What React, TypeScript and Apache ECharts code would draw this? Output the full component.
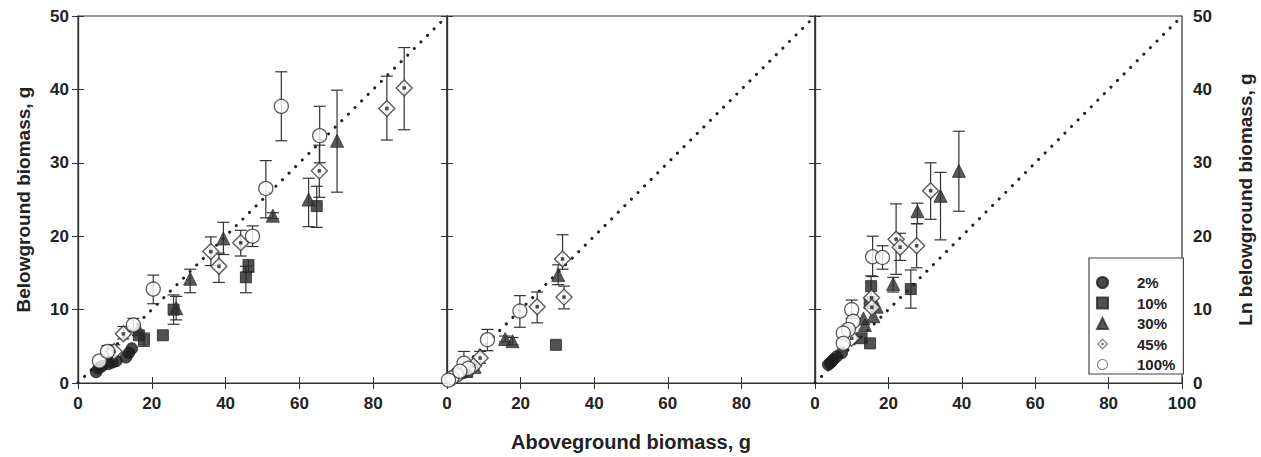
import React, { useEffect, useRef } from "react";
import * as echarts from "echarts";

// ---------- data: [aboveground, belowground, lowerErr, upperErr] ----------
const GROUPS = ["2%", "10%", "30%", "45%", "100%"];
const X_TICKS = [0, 20, 40, 60, 80, 100];
const Y_TICKS = [0, 10, 20, 30, 40, 50];
const REF_LINE = [[0, 0], [100, 50]];

// Panel 1
const p1_2 = [[4.9, 1.5, null, null], [5.6, 2.0, null, null], [6.5, 2.3, null, null], [8.2, 2.6, null, null], [9.3, 2.8, null, null], [10.4, 3.0, null, null], [13.0, 3.5, null, null], [13.8, 4.1, null, null], [14.6, 4.7, null, null]];
const p1_10 = [[17.9, 5.9, 5.0, 6.8], [23.0, 6.5, null, null], [25.9, 10.0, 8.0, 12.0], [45.5, 14.4, 12.3, 15.9], [46.2, 15.9, 15.1, 16.8], [64.7, 24.1, 21.2, 26.8], [16.5, 6.5, null, null]];
const p1_30 = [[16.4, 7.3, null, null], [26.6, 10.2, 8.6, 11.8], [30.4, 14.2, 12.3, 15.5], [39.4, 19.7, 17.5, 21.9], [52.8, 22.8, 22.4, 23.2], [62.5, 25.0, 21.3, 27.9], [70.2, 33.0, 26.0, 39.9]];
const p1_45 = [[9.8, 4.3, 3.6, 5.2], [12.3, 6.7, 6.0, 7.7], [36.0, 17.9, 16.0, 19.9], [38.2, 15.9, 13.7, 17.7], [44.1, 19.1, 17.3, 20.8], [65.4, 28.9, 25.3, 32.4], [83.7, 37.4, 33.1, 41.8], [88.4, 40.2, 34.5, 45.7]];
const p1_100 = [[5.8, 3.0, null, null], [8.0, 4.3, 3.5, 5.1], [15.0, 7.9, 7.0, 8.8], [20.4, 12.8, 10.8, 14.7], [47.3, 20.0, 18.6, 21.4], [50.9, 26.5, 22.5, 30.3], [55.1, 37.7, 33.0, 42.4], [65.5, 33.7, 30.0, 37.7]];

// Panel 2
const p2_2 = [[1.5, 0.6, null, null], [2.5, 0.9, null, null], [3.5, 1.2, null, null], [4.5, 1.4, null, null]];
const p2_10 = [[29.6, 5.2, null, null], [5.5, 1.5, null, null]];
const p2_30 = [[15.8, 6.0, 5.6, 6.4], [17.8, 5.7, 5.2, 6.2], [30.2, 14.7, 13.4, 16.1], [7.5, 2.2, null, null]];
const p2_45 = [[31.4, 16.9, 15.5, 20.2], [31.8, 11.7, 10.1, 13.2], [24.5, 10.4, 8.2, 12.4], [9.0, 3.4, 2.7, 4.3], [7.2, 2.3, null, null]];
const p2_100 = [[19.8, 9.8, 7.6, 11.9], [11.0, 5.9, 4.4, 7.3], [4.6, 2.7, 2.0, 4.3], [5.8, 2.0, null, null], [2.6, 1.1, null, null], [1.3, 0.7, null, null], [0.4, 0.4, null, null], [3.5, 1.6, null, null]];

// Panel 3
const p3_2 = [[3.6, 2.5, null, null], [4.1, 2.7, null, null], [4.5, 2.9, null, null], [5.0, 3.2, null, null], [5.9, 3.6, null, null], [7.3, 4.1, null, null]];
const p3_10 = [[15.3, 13.2, 11.8, 14.6], [26.1, 12.8, 10.2, 15.4], [14.9, 10.9, null, null], [12.7, 6.1, null, null], [15.0, 5.4, null, null]];
const p3_30 = [[39.2, 28.9, 23.4, 34.3], [34.2, 25.5, 19.5, 28.7], [27.9, 23.4, 21.7, 24.5], [21.3, 13.5, 12.4, 14.4], [16.8, 10.4, null, null], [15.9, 9.1, null, null], [13.2, 8.8, null, null], [13.6, 7.9, null, null]];
const p3_45 = [[31.5, 26.2, 22.3, 30.0], [27.7, 18.7, 15.7, 21.7], [22.1, 19.6, 14.8, 24.4], [23.2, 18.5, 16.7, 20.4], [15.4, 11.6, null, null], [10.0, 6.1, null, null], [15.5, 10.3, null, null]];
const p3_100 = [[15.7, 17.2, 14.5, 20.0], [18.4, 17.1, 15.5, 18.7], [10.0, 10.0, 8.8, 11.3], [10.4, 8.4, null, null], [9.1, 7.3, null, null], [7.7, 6.8, null, null], [7.7, 5.4, null, null]];

const PANELS = [
  [p1_2, p1_10, p1_30, p1_45, p1_100],
  [p2_2, p2_10, p2_30, p2_45, p2_100],
  [p3_2, p3_10, p3_30, p3_45, p3_100],
];

// ---------- styles ----------
const FONT = "'Liberation Sans', Arial, Helvetica, sans-serif";
const INK = "#222";
const GRID_BOXES = [
  { left: 78, width: 369 },
  { left: 447, width: 368 },
  { left: 815, width: 367 },
];
const GRID_TOP = 16;
const GRID_H = 367;

const STYLE: Record<string, any> = {
  "2%": { symbol: "circle", size: 11.5, itemStyle: { color: "#1b1b1b", borderColor: "#1b1b1b", borderWidth: 1 } },
  "10%": { symbol: "rect", size: 11, itemStyle: { color: "#262626", borderColor: "#262626", borderWidth: 1 } },
  "30%": { symbol: "triangle", size: 13, itemStyle: { color: "#303030", borderColor: "#303030", borderWidth: 1 } },
  "45%": { symbol: "diamond", size: 16, itemStyle: { color: "#ffffff", borderColor: "#333", borderWidth: 1.4 } },
  "100%": { symbol: "circle", size: 14, itemStyle: { color: "#ffffff", borderColor: "#333", borderWidth: 1.3 } },
};

const DIAMOND_DOT_ICON =
  "path://M0,-10L10,0L0,10L-10,0Z M0,-7.6L-7.6,0L0,7.6L7.6,0Z M-1.9,-1.9L1.9,-1.9L1.9,1.9L-1.9,1.9Z";
const RING_ICON = "path://M0,-10A10,10 0 1,1 0,10A10,10 0 1,1 0,-10Z M0,-8.4A8.4,8.4 0 1,0 0,8.4A8.4,8.4 0 1,0 0,-8.4Z";

function errorBarRender(params: any, api: any) {
  const x = api.value(0);
  const lo = api.value(2);
  const hi = api.value(3);
  if (lo == null || hi == null || isNaN(lo) || isNaN(hi)) return null;
  const top = api.coord([x, hi]);
  const bot = api.coord([x, lo]);
  const w = 6;
  const style = { stroke: "#333", lineWidth: 1.2 };
  return {
    type: "group",
    children: [
      { type: "line", shape: { x1: top[0], y1: top[1], x2: bot[0], y2: bot[1] }, style },
      { type: "line", shape: { x1: top[0] - w, y1: top[1], x2: top[0] + w, y2: top[1] }, style },
      { type: "line", shape: { x1: bot[0] - w, y1: bot[1], x2: bot[0] + w, y2: bot[1] }, style },
    ],
  };
}

export default function App() {
  const ref = useRef<HTMLDivElement>(null);

  useEffect(() => {
    if (!ref.current) return;
    const chart = echarts.init(ref.current, null, { renderer: "svg" });

    const grid = GRID_BOXES.map((g) => ({
      left: g.left,
      width: g.width,
      top: GRID_TOP,
      height: GRID_H,
      show: true,
      borderColor: "#333",
      borderWidth: 1.2,
      backgroundColor: "transparent",
    }));

    const tickLabel = { fontFamily: FONT, fontWeight: "bold", fontSize: 17, color: INK };
    const xAxis: any[] = [];
    const yAxis: any[] = [];
    GRID_BOXES.forEach((_, i) => {
      xAxis.push({
        type: "value",
        gridIndex: i,
        position: "bottom",
        min: X_TICKS[0],
        max: X_TICKS[X_TICKS.length - 1],
        interval: 20,
        axisLine: { show: true, lineStyle: { color: "#333", width: 1.2 } },
        axisTick: { show: true, inside: true, length: 6, lineStyle: { color: "#333" } },
        axisLabel: { ...tickLabel, margin: 12, showMaxLabel: i === 2, showMinLabel: true },
        splitLine: { show: false },
        name: i === 1 ? "Aboveground biomass, g" : "",
        nameLocation: "middle",
        nameGap: 49,
        nameTextStyle: { fontFamily: FONT, fontWeight: "bold", fontSize: 20, color: INK },
      });
      xAxis.push({
        type: "value",
        gridIndex: i,
        position: "top",
        min: 0,
        max: 100,
        interval: 20,
        axisLine: { show: true, lineStyle: { color: "#333", width: 1.2 } },
        axisTick: { show: true, inside: true, length: 6, lineStyle: { color: "#333" } },
        axisLabel: { show: false },
        splitLine: { show: false },
      });
      yAxis.push({
        type: "value",
        gridIndex: i,
        position: "left",
        min: Y_TICKS[0],
        max: Y_TICKS[Y_TICKS.length - 1],
        interval: 10,
        axisLine: { show: true, lineStyle: { color: "#333", width: 1.2 } },
        axisTick: { show: true, inside: true, length: 6, lineStyle: { color: "#333" } },
        axisLabel: { ...tickLabel, show: i === 0, margin: 9 },
        splitLine: { show: false },
        name: i === 0 ? "Belowground biomass, g" : "",
        nameLocation: "middle",
        nameGap: 45,
        nameTextStyle: { fontFamily: FONT, fontWeight: "bold", fontSize: 19, color: INK },
      });
      yAxis.push({
        type: "value",
        gridIndex: i,
        position: "right",
        min: 0,
        max: 50,
        interval: 10,
        axisLine: { show: true, lineStyle: { color: "#333", width: 1.2 } },
        axisTick: { show: true, inside: true, length: 6, lineStyle: { color: "#333" } },
        axisLabel: { ...tickLabel, show: i === 2, margin: 11 },
        splitLine: { show: false },
        name: i === 2 ? "Ln belowground biomass, g" : "",
        nameLocation: "middle",
        nameRotate: 90,
        nameGap: 54,
        nameTextStyle: { fontFamily: FONT, fontWeight: "bold", fontSize: 19, color: INK },
      });
    });

    const series: any[] = [];
    PANELS.forEach((groups, i) => {
      const xi = i * 2;
      const yi = i * 2;
      series.push({
        type: "line",
        name: "1:2 line",
        xAxisIndex: xi,
        yAxisIndex: yi,
        data: REF_LINE,
        symbol: "none",
        silent: true,
        z: 1,
        lineStyle: { color: "#222", width: 3, type: [0.1, 9.2], cap: "round" },
      });
      groups.forEach((data, gi) => {
        series.push({
          type: "custom",
          name: GROUPS[gi] + " err",
          xAxisIndex: xi,
          yAxisIndex: yi,
          data: data.filter((d) => d[2] != null),
          encode: { x: 0, y: [2, 3] },
          renderItem: errorBarRender,
          silent: true,
          z: 2,
        });
      });
      groups.forEach((data, gi) => {
        const name = GROUPS[gi];
        const st = STYLE[name];
        series.push({
          type: "scatter",
          name,
          xAxisIndex: xi,
          yAxisIndex: yi,
          data: data.map((d) => [d[0], d[1]]),
          symbol: st.symbol,
          symbolSize: st.size,
          itemStyle: st.itemStyle,
          z: 3 + gi,
        });
        if (name === "45%") {
          series.push({
            type: "scatter",
            name: "45% centre",
            xAxisIndex: xi,
            yAxisIndex: yi,
            data: data.map((d) => [d[0], d[1]]),
            symbol: "rect",
            symbolSize: 3.5,
            itemStyle: { color: "#222" },
            silent: true,
            z: 3 + gi,
          });
        }
      });
    });

    chart.setOption({
      animation: false,
      backgroundColor: "#ffffff",
      textStyle: { fontFamily: FONT },
      grid,
      xAxis,
      yAxis,
      legend: {
        orient: "vertical",
        left: 1089,
        top: 258,
        width: 83,
        padding: [17, 8, 2, 7],
        itemGap: 5.5,
        itemWidth: 11,
        itemHeight: 11,
        borderColor: "#444",
        borderWidth: 1.2,
        backgroundColor: "#ffffff",
        textStyle: {
          fontFamily: FONT,
          fontWeight: "bold",
          fontSize: 15,
          color: INK,
          padding: [0, 0, 0, 24],
        },
        data: [
          { name: "2%" },
          { name: "10%" },
          { name: "30%" },
          { name: "45%", icon: DIAMOND_DOT_ICON, itemStyle: { color: "#333", borderWidth: 0 } },
          { name: "100%", icon: RING_ICON, itemStyle: { color: "#555", borderWidth: 0 } },
        ],
        selectedMode: false,
      },
      series,
    });

    return () => chart.dispose();
  }, []);

  return (
    <div
      ref={ref}
      style={{ position: "fixed", left: 0, top: 0, width: 1261, height: 457, background: "#fff" }}
    />
  );
}
